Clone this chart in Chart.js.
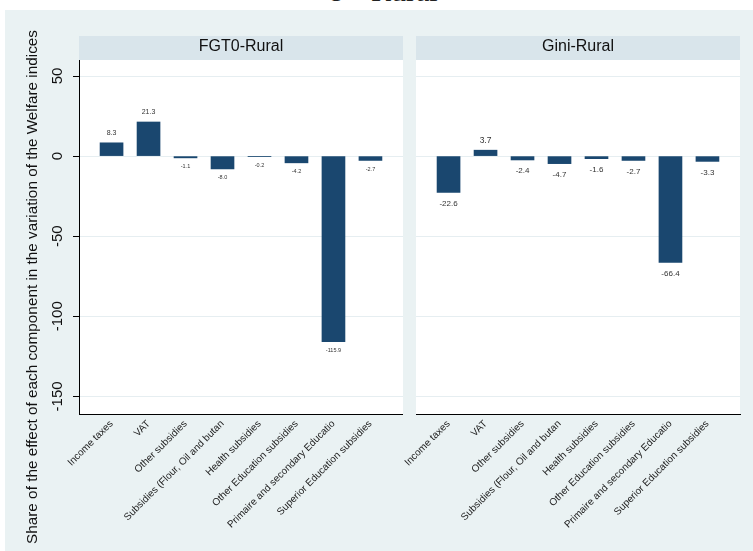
<!DOCTYPE html>
<html>
<head>
<meta charset="utf-8">
<script src="https://cdn.jsdelivr.net/npm/chart.js@4"></script>
<style>
body { margin: 0; background: #fff; width: 753px; height: 551px; position: relative; overflow: hidden; font-family: "Liberation Sans", Arial, sans-serif; }
#bg { position: absolute; left: 5px; top: 10px; right: 0; bottom: 0; background: #eaf2f3; }
#top { position: absolute; left: 0; top: 0; width: 753px; height: 10px; overflow: hidden; }
#top span { position: absolute; top: -24px; font: 30px "Liberation Serif", serif; line-height: 30px; white-space: nowrap; color: #222; }
canvas { position: absolute; top: 0; }
#chart_1 { left: 0; }
#chart_2 { left: 360px; }
</style>
</head>
<body>
<div id="top"><span style="left:328px">c —</span><span style="left:371px">Rural</span></div>
<div id="bg"></div>
<canvas id="chart_1" width="403" height="551"></canvas>
<canvas id="chart_2" width="393" height="551"></canvas>
<script>
// data
const categories = [
    'Income taxes',
    'VAT',
    'Other subsidies',
    'Subsidies (Flour, Oil and butan',
    'Health subsidies',
    'Other Education subsidies',
    'Primaire and secondary Educatio',
    'Superior Education subsidies'
];
const fgt0Values = [8.3, 21.3, -1.1, -8.0, -0.2, -4.2, -115.9, -2.7];
const giniValues = [-22.6, 3.7, -2.4, -4.7, -1.6, -2.7, -66.4, -3.3];
const yTicks = [-150, -100, -50, 0, 50];
const yTitle = 'Share of the effect of each component in the variation of the Welfare indices';

const BAR = '#1a476f';
const FONT = '"Liberation Sans", Arial, sans-serif';

// white plot, grey header strip, bar labels
const panelPlugin = {
    id: 'panel',
    beforeDraw(chart, args, opts) {
        const ctx = chart.ctx, a = chart.chartArea;
        ctx.save();
        ctx.fillStyle = '#fff';
        ctx.fillRect(a.left, a.top, a.right - a.left, a.bottom - a.top);
        ctx.fillStyle = '#d9e5eb';
        ctx.fillRect(a.left, 36, a.right - a.left, a.top - 36);
        ctx.fillStyle = '#111';
        ctx.font = '16px ' + FONT;
        ctx.textAlign = 'center';
        ctx.textBaseline = 'middle';
        ctx.fillText(opts.title, (a.left + a.right) / 2, 47);
        ctx.restore();
    },
    afterDatasetsDraw(chart, args, opts) {
        const ctx = chart.ctx;
        const vals = chart.data.datasets[0].data;
        ctx.save();
        ctx.fillStyle = '#333';
        ctx.textAlign = 'center';
        ctx.textBaseline = 'middle';
        chart.getDatasetMeta(0).data.forEach((bar, i) => {
            const v = vals[i].y;
            if (v >= 0) {
                ctx.font = opts.posSize + 'px ' + FONT;
                ctx.fillText(v.toFixed(1), bar.x, bar.y - opts.above);
            } else {
                ctx.font = opts.negSize + 'px ' + FONT;
                ctx.fillText(v.toFixed(1), bar.x, bar.y + opts.below);
            }
        });
        if (opts.yTitle) {
            ctx.fillStyle = '#111';
            ctx.font = '15.3px ' + FONT;
            ctx.translate(33, 287);
            ctx.rotate(-Math.PI / 2);
            ctx.fillText(opts.yTitle, 0, 0);
        }
        ctx.restore();
    }
};

function makeChart(id, values, panel, showY, yWidth) {
    return new Chart(document.getElementById(id), {
        type: 'bar',
        data: {
            datasets: [{
                data: values.map((v, i) => ({x: i, y: v})),
                backgroundColor: BAR,
                barThickness: 23
            }]
        },
        options: {
            responsive: false,
            animation: false,
            layout: {padding: {top: 60, bottom: 0, left: 0, right: showY ? 0 : 13}},
            plugins: {legend: {display: false}, tooltip: {enabled: false}, panel: panel},
            scales: {
                x: {
                    type: 'linear',
                    offset: false,
                    min: -0.88,
                    max: 7.88,
                    afterBuildTicks: s => { s.ticks = categories.map((c, i) => ({value: i})); },
                    afterFit: s => { s.height = 137; },
                    grid: {display: false},
                    border: {display: true, color: '#000', width: 1},
                    ticks: {
                        autoSkip: false,
                        minRotation: 45,
                        maxRotation: 45,
                        padding: -4,
                        color: '#222',
                        font: {family: FONT, size: 10},
                        callback: v => categories[v]
                    }
                },
                y: {
                    min: -161,
                    max: 60,
                    afterBuildTicks: s => { s.ticks = yTicks.map(v => ({value: v})); },
                    afterFit: s => { s.width = yWidth; },
                    grid: {color: '#e6eef1', lineWidth: 1, drawTicks: showY, tickLength: 6, tickColor: '#000'},
                    border: {display: showY, color: '#000', width: 1},
                    ticks: {
                        display: showY,
                        minRotation: 90,
                        maxRotation: 90,
                        crossAlign: 'center',
                        padding: 0,
                        color: '#111',
                        font: {family: FONT, size: 15}
                    }
                }
            }
        },
        plugins: [panelPlugin]
    });
}

makeChart('chart_1', fgt0Values,
    {title: 'FGT0-Rural', posSize: 7, negSize: 5.5, above: 10, below: 9, yTitle: yTitle}, true, 79);
makeChart('chart_2', giniValues,
    {title: 'Gini-Rural', posSize: 8.5, negSize: 8, above: 10, below: 11}, false, 56);
</script>
</body>
</html>
